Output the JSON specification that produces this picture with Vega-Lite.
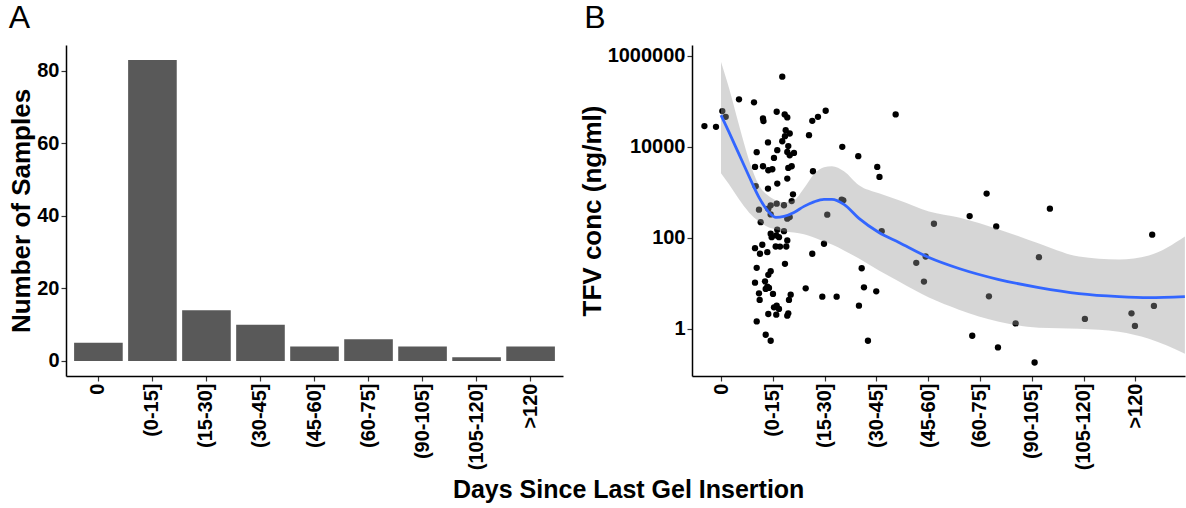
{
  "$schema": "https://vega.github.io/schema/vega-lite/v6.json",
  "padding": {"left": 8, "top": 2, "right": 0, "bottom": 0},
  "background": "white",
  "bounds": "flush",
  "spacing": 129,
  "config": {
    "font": "Liberation Sans",
    "view": {"stroke": null},
    "axis": {
      "domainColor": "black", "domainWidth": 1.5,
      "tickColor": "#333333", "tickSize": 5, "tickWidth": 1.2,
      "labelColor": "black", "labelFont": "Liberation Sans", "labelFontSize": 20, "labelFontWeight": "bold", "labelPadding": 2,
      "titleFont": "Liberation Sans", "titleFontWeight": "bold", "titleColor": "black", "titleFontSize": 26,
      "grid": false
    }
  },
  "title": {"text": "Days Since Last Gel Insertion", "orient": "bottom", "anchor": "middle", "frame": "bounds", "dx": 29, "fontSize": 25, "fontWeight": "bold", "font": "Liberation Sans", "offset": 8, "color": "black"},
  "datasets": {
    "bars": [
      {"interval": "0", "samples": 5},
      {"interval": "(0-15]", "samples": 83},
      {"interval": "(15-30]", "samples": 14},
      {"interval": "(30-45]", "samples": 10},
      {"interval": "(45-60]", "samples": 4},
      {"interval": "(60-75]", "samples": 6},
      {"interval": "(90-105]", "samples": 4},
      {"interval": "(105-120]", "samples": 1},
      {"interval": ">120", "samples": 4}
    ],
    "pts": [
      {"days": -4.8, "conc": 28600}, {"days": -1.45, "conc": 27600}, {"days": 0.38, "conc": 61200}, {"days": 1.36, "conc": 45800},
      {"days": 5.21, "conc": 111000}, {"days": 9.56, "conc": 95300}, {"days": 17.75, "conc": 350000}, {"days": 16.13, "conc": 59100},
      {"days": 18.45, "conc": 51800}, {"days": 19.2, "conc": 44500}, {"days": 12.16, "conc": 42300}, {"days": 12.3, "conc": 36900},
      {"days": 30.32, "conc": 62200}, {"days": 28.09, "conc": 45800}, {"days": 26.44, "conc": 37400}, {"days": 25.49, "conc": 18100},
      {"days": 18.74, "conc": 23300}, {"days": 19.9, "conc": 19700}, {"days": 18.53, "conc": 17200}, {"days": 17.75, "conc": 13300},
      {"days": 13.61, "conc": 12500}, {"days": 19.49, "conc": 10400}, {"days": 16.3, "conc": 8450}, {"days": 19.2, "conc": 7750},
      {"days": 21.14, "conc": 7360}, {"days": 19.9, "conc": 6550}, {"days": 10.34, "conc": 7630}, {"days": 15.35, "conc": 5710},
      {"days": 20.47, "conc": 3750}, {"days": 9.85, "conc": 3620}, {"days": 12.16, "conc": 3750}, {"days": 13.7, "conc": 3060},
      {"days": 14.86, "conc": 3220}, {"days": 19.49, "conc": 3440}, {"days": 26.64, "conc": 2910}, {"days": 19.2, "conc": 2010},
      {"days": 16.3, "conc": 1560}, {"days": 10.05, "conc": 1360}, {"days": 13.61, "conc": 1210}, {"days": 20.85, "conc": 904},
      {"days": 20.47, "conc": 643}, {"days": 14.39, "conc": 517}, {"days": 16.13, "conc": 564}, {"days": 18.24, "conc": 520},
      {"days": 11.0, "conc": 416}, {"days": 13.7, "conc": 437}, {"days": 14.39, "conc": 327}, {"days": 19.2, "conc": 263},
      {"days": 19.9, "conc": 285}, {"days": 30.78, "conc": 322}, {"days": 11.5, "conc": 221}, {"days": 16.3, "conc": 150},
      {"days": 18.24, "conc": 140}, {"days": 14.39, "conc": 123}, {"days": 16.01, "conc": 113}, {"days": 14.68, "conc": 103},
      {"days": 16.8, "conc": 103}, {"days": 19.2, "conc": 87.4}, {"days": 29.83, "conc": 73.9}, {"days": 11.96, "conc": 70.2},
      {"days": 9.85, "conc": 59.1}, {"days": 15.84, "conc": 64.4}, {"days": 17.09, "conc": 64}, {"days": 18.91, "conc": 64.4},
      {"days": 13.41, "conc": 48.2}, {"days": 11.29, "conc": 44.5}, {"days": 26.44, "conc": 44.5}, {"days": 18.53, "conc": 26.7},
      {"days": 10.34, "conc": 21.8}, {"days": 14.39, "conc": 18.4}, {"days": 13.7, "conc": 15.3}, {"days": 9.85, "conc": 10.3},
      {"days": 12.74, "conc": 11.0}, {"days": 13.41, "conc": 8.45}, {"days": 12.94, "conc": 7.5}, {"days": 13.9, "conc": 7.9},
      {"days": 11.0, "conc": 6.0}, {"days": 15.06, "conc": 5.83}, {"days": 20.18, "conc": 5.62}, {"days": 19.69, "conc": 4.3},
      {"days": 24.53, "conc": 7.74}, {"days": 29.34, "conc": 5.08}, {"days": 33.5, "conc": 5.08}, {"days": 11.2, "conc": 4.3},
      {"days": 16.13, "conc": 3.22}, {"days": 15.35, "conc": 2.95}, {"days": 16.8, "conc": 2.72}, {"days": 13.7, "conc": 2.11},
      {"days": 16.01, "conc": 2.04}, {"days": 19.49, "conc": 2.18}, {"days": 19.2, "conc": 1.94}, {"days": 10.34, "conc": 1.45},
      {"days": 12.94, "conc": 0.737}, {"days": 14.39, "conc": 0.544}, {"days": 34.95, "conc": 690}, {"days": 35.42, "conc": 667},
      {"days": 40.75, "conc": 21.4}, {"days": 41.41, "conc": 8.15}, {"days": 44.97, "conc": 6.65}, {"days": 39.96, "conc": 3.22},
      {"days": 42.57, "conc": 0.544}, {"days": 35.13, "conc": 10000}, {"days": 39.76, "conc": 6230}, {"days": 45.26, "conc": 3620},
      {"days": 45.9, "conc": 2180}, {"days": 50.59, "conc": 51800}, {"days": 76.94, "conc": 937}, {"days": 95.27, "conc": 437},
      {"days": 72.02, "conc": 300}, {"days": 79.72, "conc": 178}, {"days": 61.68, "conc": 204}, {"days": 124.9, "conc": 117},
      {"days": 46.54, "conc": 140}, {"days": 59.28, "conc": 38.8}, {"days": 56.56, "conc": 28.1}, {"days": 92.09, "conc": 37.4},
      {"days": 58.79, "conc": 10.9}, {"days": 77.61, "conc": 5.16}, {"days": 85.34, "conc": 1.31}, {"days": 105.4, "conc": 1.64},
      {"days": 118.9, "conc": 2.18}, {"days": 119.9, "conc": 1.15}, {"days": 125.4, "conc": 3.17}, {"days": 72.77, "conc": 0.70},
      {"days": 80.22, "conc": 0.387}, {"days": 90.84, "conc": 0.181}
    ],
    "smooth": [
      {"days": 0, "fit": 50000, "lo": 2630, "hi": 738000},
      {"days": 2.32, "fit": 21100, "lo": 1500, "hi": 197000},
      {"days": 5.21, "fit": 6900, "lo": 701, "hi": 30100},
      {"days": 8.11, "fit": 2260, "lo": 362, "hi": 5080},
      {"days": 11.0, "fit": 776, "lo": 229, "hi": 1430},
      {"days": 13.9, "fit": 362, "lo": 169, "hi": 817},
      {"days": 15.93, "fit": 281, "lo": 153, "hi": 667},
      {"days": 18.24, "fit": 296, "lo": 138, "hi": 602},
      {"days": 21.14, "fit": 362, "lo": 131, "hi": 667},
      {"days": 24.04, "fit": 491, "lo": 119, "hi": 1225},
      {"days": 26.93, "fit": 618, "lo": 102, "hi": 2500},
      {"days": 29.83, "fit": 701, "lo": 83, "hi": 3560},
      {"days": 32.14, "fit": 701, "lo": 71.3, "hi": 3750},
      {"days": 35.62, "fit": 544, "lo": 52.6, "hi": 2910},
      {"days": 39.96, "fit": 267, "lo": 35, "hi": 1430},
      {"days": 45.75, "fit": 131, "lo": 19.0, "hi": 951},
      {"days": 51.55, "fit": 78.9, "lo": 10.9, "hi": 667},
      {"days": 60.23, "fit": 36.8, "lo": 4.83, "hi": 381},
      {"days": 68.92, "fit": 21.1, "lo": 2.63, "hi": 281},
      {"days": 80.5, "fit": 12.05, "lo": 1.43, "hi": 153},
      {"days": 92.09, "fit": 8.03, "lo": 1.05, "hi": 75},
      {"days": 103.67, "fit": 5.92, "lo": 1.0, "hi": 38.8},
      {"days": 115.25, "fit": 5.08, "lo": 0.859, "hi": 33.3},
      {"days": 123.94, "fit": 4.83, "lo": 0.602, "hi": 40.8},
      {"days": 134.37, "fit": 5.08, "lo": 0.281, "hi": 107}
    ]
  },
  "hconcat": [
    {
      "width": 497,
      "height": 331,
      "title": {"text": "A", "anchor": "start", "frame": "bounds", "fontSize": 32, "fontWeight": "normal", "font": "Liberation Sans", "color": "black", "offset": 10},
      "data": {"name": "bars"},
      "mark": {"type": "bar", "color": "#595959"},
      "encoding": {
        "x": {
          "field": "interval", "type": "nominal",
          "sort": ["0", "(0-15]", "(15-30]", "(30-45]", "(45-60]", "(60-75]", "(90-105]", "(105-120]", ">120"],
          "scale": {"paddingInner": 0.1, "paddingOuter": 0.15},
          "axis": {"title": null, "labelAngle": -90}
        },
        "y": {
          "field": "samples", "type": "quantitative",
          "scale": {"domain": [-4.15, 87.15], "nice": false, "zero": false},
          "axis": {"title": "Number of Samples", "values": [0, 20, 40, 60, 80], "titlePadding": 2}
        }
      }
    },
    {
      "width": 493,
      "height": 331,
      "title": {"text": "B", "anchor": "start", "frame": "bounds", "fontSize": 32, "fontWeight": "normal", "font": "Liberation Sans", "color": "black", "offset": 10, "dx": 5},
      "layer": [
        {
          "data": {"name": "pts"},
          "mark": {"type": "circle", "size": 40, "color": "black", "opacity": 1},
          "encoding": {
            "x": {"field": "days", "type": "quantitative", "scale": {"domain": [-8.4, 134.4], "nice": false, "zero": false},
                  "axis": {"title": null, "values": [0, 15, 30, 45, 60, 75, 90, 105, 120], "labelAngle": -90,
                           "labelExpr": "['0','(0-15]','(15-30]','(30-45]','(45-60]','(60-75]','(90-105]','(105-120]','>120'][round(datum.value/15)]"}},
            "y": {"field": "conc", "type": "quantitative", "scale": {"type": "log", "domain": [0.0912, 1740000], "nice": false},
                  "axis": {"title": "TFV conc (ng/ml)", "values": [1, 100, 10000, 1000000], "format": "d", "titlePadding": 2}}
          }
        },
        {
          "data": {"name": "smooth"},
          "mark": {"type": "area", "color": "#999999", "opacity": 0.4, "interpolate": "monotone"},
          "encoding": {
            "x": {"field": "days", "type": "quantitative"},
            "y": {"field": "lo", "type": "quantitative"},
            "y2": {"field": "hi"}
          }
        },
        {
          "data": {"name": "smooth"},
          "mark": {"type": "line", "color": "#3366FF", "strokeWidth": 2.8, "interpolate": "monotone"},
          "encoding": {
            "x": {"field": "days", "type": "quantitative"},
            "y": {"field": "fit", "type": "quantitative"}
          }
        }
      ]
    }
  ]
}
